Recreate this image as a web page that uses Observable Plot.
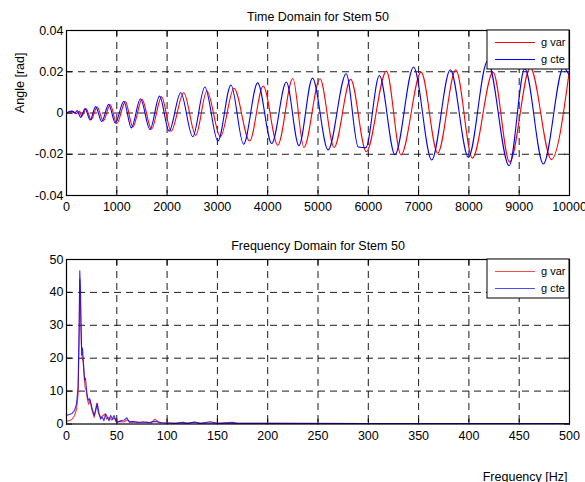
<!DOCTYPE html>
<html><head><meta charset="utf-8">
<script src="https://cdn.jsdelivr.net/npm/d3@7"></script>
<script src="https://cdn.jsdelivr.net/npm/@observablehq/plot@0.6"></script>
<style>
body{margin:0;background:#fff;}
#wrap{position:relative;width:585px;height:482px;overflow:hidden;background:#fff;}
#wrap svg{position:absolute;left:0;}
</style></head><body><div id="wrap"></div>
<script>
// ---- tick labels ----
const timeTicks = [0,1000,2000,3000,4000,5000,6000,7000,8000,9000,10000];
const angleTicks = [-0.04,-0.02,0,0.02,0.04];
const freqTicks = [0,50,100,150,200,250,300,350,400,450,500];
const magTicks = [0,10,20,30,40,50];
const seriesNames = ["g var","g cte"];
const seriesColors = ["#ff0000","#0000ff"];
const titles = ["Time Domain for Stem 50","Frequency Domain for Stem 50"];
const axisLabels = ["Angle [rad]","Frequency [Hz]"];

// ---- time domain (extrema) ----
const timeVar = [0,120,200,260,300,390,490,610,730,870,1000,1170,1320,1500,1690,1890,2080,2330,2570,2790,3060,3330,3640,3910,4200,4500,4720,5040,5320,5650,5960,6360,6650,7050,7380,7740,8070,8480,8810,9220,9640,10000];
const angleVar = [0,0.0008,-0.0003,0.001,-0.0015,0.002,-0.0032,0.0029,-0.0038,0.004,-0.0052,0.0055,-0.0068,0.0066,-0.0078,0.0078,-0.0088,0.0098,-0.0108,0.0107,-0.0115,0.012,-0.0136,0.0131,-0.0156,0.0167,-0.0167,0.0166,-0.0167,0.0163,-0.0188,0.0203,-0.0203,0.0198,-0.0195,0.021,-0.0219,0.0198,-0.0238,0.022,-0.0226,0.021];
const timeCte = [0,100,170,210,280,370,470,580,700,840,970,1140,1290,1470,1660,1850,2040,2270,2510,2750,3010,3270,3520,3800,4080,4370,4620,4890,5200,5560,5800,5950,6220,6530,6900,7260,7630,7990,8370,8800,9110,9480,9880,10000];
const angleCte = [0,0.001,0,0.0012,-0.0021,0.0021,-0.0034,0.0031,-0.0041,0.0042,-0.0049,0.0057,-0.0072,0.0069,-0.008,0.0082,-0.0088,0.0098,-0.0115,0.0126,-0.0136,0.0136,-0.0151,0.0146,-0.0148,0.015,-0.0158,0.0169,-0.0179,0.019,-0.0165,-0.0168,0.0182,-0.0202,0.0223,-0.0228,0.021,-0.0215,0.0252,-0.0256,0.0215,-0.0247,0.022,0.018];

// ---- frequency domain ----
const freqVar = [0,2,5,8,10,11.5,12.5,13.2,14,14.8,15.5,16.5,17.5,18.5,19.5,20.5,22,23.5,25,27.5,30,31.5,34,36,38,40,42,45,48,50,53,57,60,65,70,75,80,84,88,92,100,108,115,120,128,133,145,150,200,300,400,500];
const magVar = [0.8,1.0,1.3,2.5,4.5,9,24,44,35,24,20,19,15,11,10.5,8,6,7.3,4.5,2,6.3,3.5,2,2.5,3,1.5,2,1.2,1.8,0.6,0.8,0.6,1.2,0.5,0.7,0.4,0.6,0.3,1.5,0.4,0.3,0.2,0.4,0.2,0.5,0.2,0.3,0.2,0.2,0.15,0.15,0.15];
const freqCte = [0,2,5,8,10,11.5,12.5,13.2,13.9,14.5,15.2,15.9,16.9,17.9,18.9,20.3,21.6,23,24.3,26,27.7,29.4,30.7,32.1,33.8,35.5,37.2,38.9,40.5,42.2,43.9,45.6,47.3,49,50.7,54,57.4,60,62.5,65.9,71,76,81,88,94.6,101,108,116,120,127,133,143,150,165,170,200,300,400,500];
const magCte = [2.6,2.8,3.1,4.1,6.2,11.3,28.8,46.6,41,28.8,21,23.1,18.5,13.4,13.9,9.3,7.2,7.7,6.2,4.1,2.6,4.6,6.2,3.6,1.5,2.1,1.0,3.1,2.1,1.0,2.6,1.5,2.6,0.8,0.5,1.0,1.2,1.9,0.5,0.8,0.4,0.7,0.4,0.8,0.4,0.3,0.2,0.5,0.2,0.6,0.2,0.7,0.2,0.5,0.2,0.2,0.15,0.15,0.15];

const zip = (xs, ys) => xs.map((x, i) => ({x, y: ys[i]}));
const fmt = d => String(d);
const FONT = "'Liberation Sans', Arial, Helvetica, sans-serif";
const tickShape = {draw(ctx, l) { ctx.moveTo(0, 0); ctx.lineTo(0, -l); }};
const dash = "7,5";

function frameMarks(xt, yt) {
  const o = {length: 5, anchor: "start", shape: tickShape, stroke: "black", strokeWidth: 1};
  return [
    Plot.ruleX(xt.slice(1, -1), {x: d => d, stroke: "black", strokeWidth: 0.9, strokeDasharray: dash}),
    Plot.ruleY(yt.slice(1, -1), {y: d => d, stroke: "black", strokeWidth: 0.9, strokeDasharray: dash}),
    Plot.vector(xt, {...o, x: d => d, frameAnchor: "bottom", rotate: 0}),
    Plot.vector(xt, {...o, x: d => d, frameAnchor: "top", rotate: 180}),
    Plot.vector(yt, {...o, y: d => d, frameAnchor: "left", rotate: 90}),
    Plot.vector(yt, {...o, y: d => d, frameAnchor: "right", rotate: -90})
  ];
}

function addLegend(svg, frameRight, frameTop, light) {
  const g = d3.select(svg).append("g").attr("font-family", FONT).attr("font-size", "11px")
    .attr("text-anchor", "start");
  const bx = frameRight - 82, by = frameTop;
  g.append("rect").attr("x", bx).attr("y", by).attr("width", 82).attr("height", 39)
    .attr("fill", "white").attr("stroke", "black").attr("stroke-width", 1);
  seriesNames.forEach((name, i) => {
    const ly = by + 12.5 + i * 17;
    g.append("line").attr("x1", bx + 8).attr("x2", bx + 48).attr("y1", ly).attr("y2", ly)
      .attr("stroke", seriesColors[i]).attr("stroke-width", 1).attr("stroke-opacity", light ? 0.7 : 1);
    g.append("text").attr("x", bx + 54).attr("y", ly + 3.6).attr("fill", "black")
      .attr("text-anchor", "start").text(name);
  });
}

const W = 585;
// ---- top: time domain ----
const topM = {l: 66, r: 16, t: 30, b: 35};
const timePlot = Plot.plot({
  width: W, height: 230,
  marginLeft: topM.l, marginRight: topM.r, marginTop: topM.t, marginBottom: topM.b,
  style: {fontFamily: FONT, fontSize: "12.5px", background: "white", overflow: "visible"},
  x: {domain: [0, 10000], axis: null},
  y: {domain: [-0.04, 0.04], axis: null},
  marks: [
    ...frameMarks(timeTicks, angleTicks),
    Plot.line(zip(timeVar, angleVar), {x: "x", y: "y", stroke: seriesColors[0], strokeWidth: 1.1, curve: "monotone-x"}),
    Plot.line(zip(timeCte, angleCte), {x: "x", y: "y", stroke: seriesColors[1], strokeWidth: 1.1, curve: "monotone-x"}),
    Plot.frame({stroke: "black", strokeWidth: 1.2}),
    Plot.axisX({ticks: timeTicks, tickSize: 0, tickPadding: 7, tickFormat: fmt, fontSize: 12.5, label: null}),
    Plot.axisY({ticks: angleTicks, tickSize: 0, tickPadding: 3, tickFormat: fmt, fontSize: 12.5, label: null}),
    Plot.text([titles[0]], {text: d => d, frameAnchor: "top", dy: -10, lineAnchor: "bottom", fontSize: 12.5}),
    Plot.text([axisLabels[0]], {text: d => d, frameAnchor: "left", dx: -47, rotate: -90, fontSize: 12.5})
  ]
});
timePlot.style.top = "0px";
addLegend(timePlot, W - topM.r, topM.t, false);

// ---- bottom: frequency domain ----
const botM = {l: 66, r: 16, t: 29, b: 58.5};
const freqPlot = Plot.plot({
  width: W, height: 252,
  marginLeft: botM.l, marginRight: botM.r, marginTop: botM.t, marginBottom: botM.b,
  style: {fontFamily: FONT, fontSize: "12.5px", background: "white", overflow: "visible"},
  x: {domain: [0, 500], axis: null},
  y: {domain: [0, 50], axis: null},
  marks: [
    ...frameMarks(freqTicks, magTicks),
    Plot.line(zip(freqVar, magVar), {x: "x", y: "y", stroke: seriesColors[0], strokeWidth: 1.1, strokeOpacity: 0.8}),
    Plot.line(zip(freqCte, magCte), {x: "x", y: "y", stroke: seriesColors[1], strokeWidth: 1.1, strokeOpacity: 0.8}),
    Plot.frame({stroke: "black", strokeWidth: 1.2}),
    Plot.axisX({ticks: freqTicks, tickSize: 0, tickPadding: 7, tickFormat: fmt, fontSize: 12.5, label: null}),
    Plot.axisY({ticks: magTicks, tickSize: 0, tickPadding: 3, tickFormat: fmt, fontSize: 12.5, label: null}),
    Plot.text([titles[1]], {text: d => d, frameAnchor: "top", dy: -10, lineAnchor: "bottom", fontSize: 12.5}),
    Plot.text([axisLabels[1]], {text: d => d, frameAnchor: "bottom-right", textAnchor: "end", dx: -2, dy: 56.5, lineAnchor: "bottom", fontSize: 12.5})
  ]
});
freqPlot.style.top = "230px";
addLegend(freqPlot, W - botM.r, botM.t, true);

const wrap = document.getElementById("wrap");
wrap.appendChild(timePlot);
wrap.appendChild(freqPlot);
</script></body></html>
